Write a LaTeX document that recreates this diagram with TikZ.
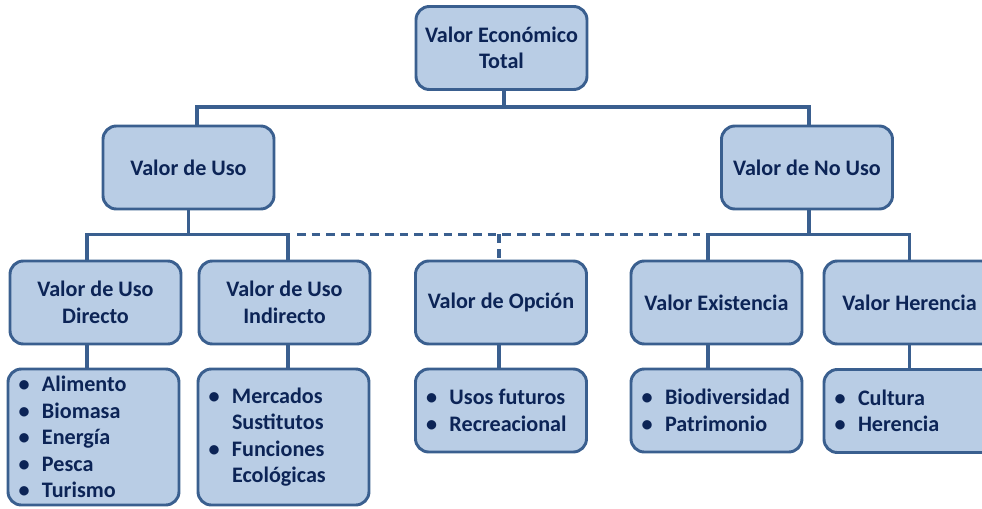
\documentclass[tikz,border=0pt]{standalone}
\usepackage{fontspec}
\setmainfont{Carlito}

\definecolor{boxfill}{HTML}{B9CDE5}
\definecolor{boxline}{HTML}{3A5F8F}
\definecolor{boxtext}{HTML}{0C2456}

\newlength{\pxu}
\setlength{\pxu}{0.75pt}
\newcommand{\itm}[1]{\makebox[25.5pt][l]{\hspace{8pt}\textbullet}#1}
\newcommand{\cnt}[1]{\hspace*{25.5pt}#1}

\tikzset{
  vbox/.style={draw=boxline, line width=2.2pt, fill=boxfill, rounded corners=10pt,
    minimum width=171\pxu, minimum height=83\pxu, inner sep=0pt, text=boxtext,
    font=\bfseries\fontsize{16.6}{19.8}\selectfont, align=flush center},
  lbox/.style={vbox, align=flush left, text width=171\pxu},
  conn/.style={draw=boxline, line width=2.3pt},
  dline/.style={conn, dash pattern=on 6.5pt off 4.5pt},
}

\begin{document}
\begin{tikzpicture}[x=0.75pt,y=-0.75pt]
\useasboundingbox (0,0) rectangle (982,508);

% boxes
\node[vbox] (vet) at (501.5,48) {Valor Económico\\Total};
\node[vbox] (vu) at (188.5,167.5) {Valor de Uso};
\node[vbox] (vnu) at (807,167.5) {Valor de No Uso};
\node[vbox] (vud) at (95.5,302.5) {Valor de Uso\\Directo};
\node[vbox] (vui) at (284.5,302.5) {Valor de Uso\\Indirecto};
\node[vbox] (vo) at (501,302.5) {Valor de Opción};
\node[vbox] (ve) at (716.5,302.5) {Valor Existencia};
\node[vbox] (vh) at (909.5,302.5) {Valor Herencia};

% lists
\node[lbox, minimum height=136\pxu] (lud) at (93.5,437)
  {\itm{Alimento}\\\itm{Biomasa}\\\itm{Energía}\\\itm{Pesca}\\\itm{Turismo}};
\node[lbox, minimum height=136\pxu] (lui) at (283.5,437)
  {\itm{Mercados}\\\cnt{Sustitutos}\\\itm{Funciones}\\\cnt{Ecológicas}};
\node[lbox] (lo) at (501,410.5) {\itm{Usos futuros}\\\itm{Recreacional}};
\node[lbox] (le) at (716.5,410.5) {\itm{Biodiversidad}\\\itm{Patrimonio}};
\node[lbox] (lh) at (909.5,411) {\itm{Cultura}\\\itm{Herencia}};

% top level
\path (vet.south) +(2.5,0) coordinate (veto);
\path (vu.north) +(8.5,0) coordinate (vuin);
\path (vnu.north) +(2,0) coordinate (vnuin);
\draw[conn] (veto) -- +(0,16) coordinate (bus1);
\draw[conn] (vuin) |- (bus1) -| (vnuin);

% valor de uso
\path (vud.north) +(-8.5,0) coordinate (vudin);
\path (vui.north) +(3.5,0) coordinate (vuiin);
\draw[conn] (vu.south) -- +(0,24) coordinate (bus2);
\draw[conn] (vudin) |- (bus2) -| (vuiin);

% valor de no uso
\path (vnu.south) +(2,0) coordinate (vnuo);
\path (ve.north) +(-8.5,0) coordinate (vein);
\draw[conn] (vnuo) -- +(0,24) coordinate (bus3);
\draw[conn] (vein) |- (bus3) -| (vh.north);

% opcion, dashed
\path (bus2 -| vuiin) +(9,0) coordinate (dl);
\path (bus3 -| vein) +(-8,0) coordinate (dr);
\path (vo.north) +(-2,0) coordinate (voin);
\draw[dline] (dl) -- (dr);
\draw[dline] (dl -| voin) -- (voin);

% lists
\path (vud.south) +(-8.5,0) coordinate (vudo);
\path (vui.south) +(3.5,0) coordinate (vuio);
\path (vo.south) +(-2,0) coordinate (voo);
\path (ve.south) +(-8.5,0) coordinate (veo);
\draw[conn] (vudo) -- (vudo |- lud.north);
\draw[conn] (vuio) -- (vuio |- lui.north);
\draw[conn] (voo) -- (voo |- lo.north);
\draw[conn] (veo) -- (veo |- le.north);
\draw[conn] (vh.south) -- (lh.north);
\end{tikzpicture}
\end{document}
